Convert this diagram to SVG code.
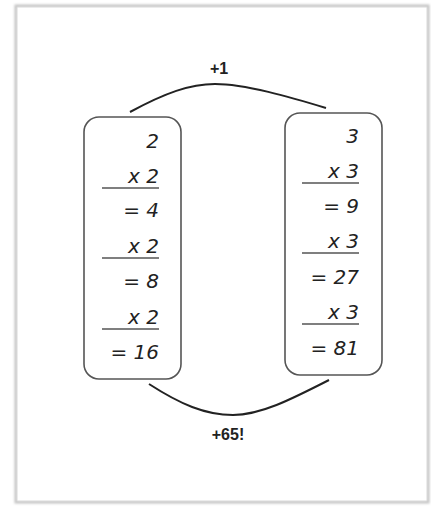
<svg xmlns="http://www.w3.org/2000/svg" width="431" height="506" viewBox="0 0 431 506">
<defs>
<filter id="sh" x="-5%" y="-5%" width="110%" height="110%"><feGaussianBlur stdDeviation="1.2"/></filter>
</defs>
<style>
.box{fill:#fff;stroke:#555;stroke-width:1.6}
.num{font-family:"DejaVu Sans","Liberation Sans",sans-serif;font-style:italic;font-size:20px;fill:#222;text-anchor:end}
.rule{stroke:#555;stroke-width:1.6}
.lab{font-family:"Liberation Sans","Open Sans",sans-serif;font-weight:bold;font-size:16px;fill:#222;text-anchor:middle}
.conn{fill:none;stroke:#222;stroke-width:2}
</style>
<rect width="431" height="506" fill="#fff"/>
<g id="frame">
<rect x="16" y="6" width="412" height="496" fill="none" stroke="#c4c4c4" stroke-width="3" filter="url(#sh)"/>
<rect x="17" y="7" width="410" height="494" fill="#fff" stroke="#d8d8d8" stroke-width="1"/>
</g>
<g id="left">
<rect class="box" x="84" y="117" width="97" height="262" rx="15"/>
<text class="num" x="159" y="148">2</text>
<text class="num" x="159" y="183">x 2</text>
<line class="rule" x1="102" y1="188" x2="159" y2="188"/>
<text class="num" x="159" y="217">= 4</text>
<text class="num" x="159" y="253">x 2</text>
<line class="rule" x1="102" y1="258" x2="159" y2="258"/>
<text class="num" x="159" y="288">= 8</text>
<text class="num" x="159" y="324">x 2</text>
<line class="rule" x1="102" y1="329" x2="159" y2="329"/>
<text class="num" x="159" y="359">= 16</text>
</g>
<g id="right">
<rect class="box" x="285" y="113" width="97" height="262" rx="15"/>
<text class="num" x="359" y="143">3</text>
<text class="num" x="359" y="178">x 3</text>
<line class="rule" x1="302" y1="183" x2="359" y2="183"/>
<text class="num" x="359" y="213">= 9</text>
<text class="num" x="359" y="248">x 3</text>
<line class="rule" x1="302" y1="253" x2="359" y2="253"/>
<text class="num" x="359" y="284">= 27</text>
<text class="num" x="359" y="319">x 3</text>
<line class="rule" x1="302" y1="324" x2="359" y2="324"/>
<text class="num" x="359" y="355">= 81</text>
</g>
<g id="connectors">
<path class="conn" d="M130,112 C165,93 190,84 215,84 C245,84 290,97 326,108"/>
<text class="lab" x="219" y="74">+1</text>
<path class="conn" d="M149,384 C180,404 205,415 233,415 C260,415 290,400 329,380"/>
<text class="lab" x="228" y="440">+65!</text>
</g>
</svg>
